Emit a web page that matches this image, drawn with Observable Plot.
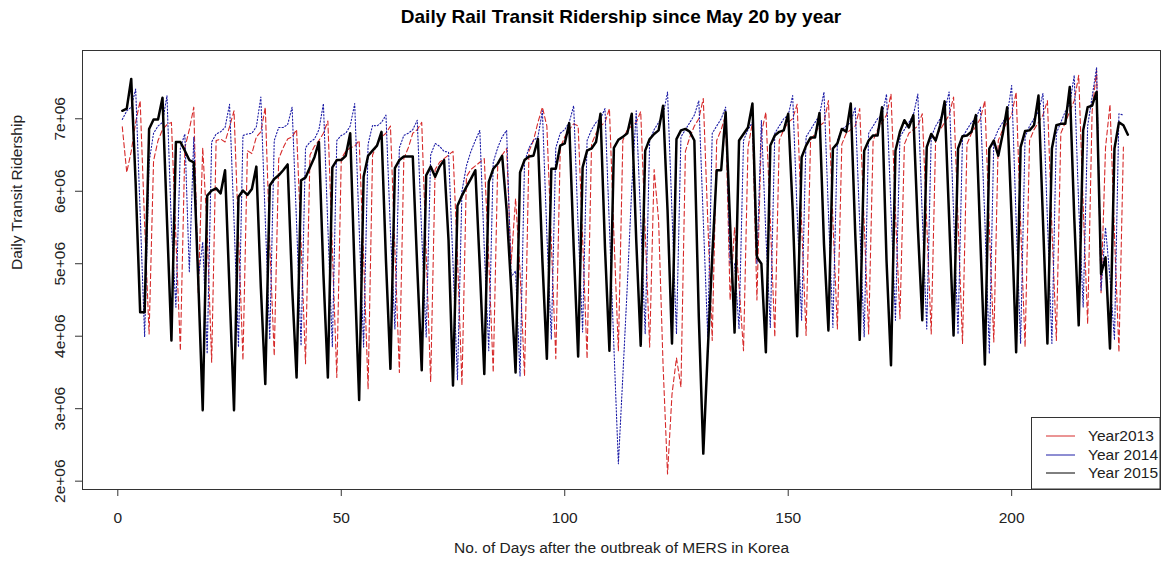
<!DOCTYPE html>
<html>
<head>
<meta charset="utf-8">
<script src="https://cdn.jsdelivr.net/npm/d3@7"></script>
<script src="https://cdn.jsdelivr.net/npm/@observablehq/plot@0.6"></script>
<style>
  html, body { margin: 0; padding: 0; background: #fff; }
  #wrap { position: relative; width: 1167px; height: 564px; font-family: "Liberation Sans", Arial, sans-serif; }
  #title { height: 36px; line-height: 34px; text-align: center; font-weight: bold; font-size: 19px; color: #000;
           padding-left: 75px; box-sizing: border-box; }
  #legend { position: absolute; left: 0; top: 0; pointer-events: none; }
</style>
</head>
<body>
<div id="wrap">
  <div id="title">Daily Rail Transit Ridership since May 20 by year</div>
  <div id="chart"></div>
</div>
<script>
// Daily rail transit ridership (millions of riders), day 1 = May 20 of each year
const riders2013 = [
  6.89, 6.26, 6.55, 6.95, 7.25, 5.55, 4.03,
  6.42, 6.70, 6.85, 6.92, 6.95, 5.35, 3.80,
  6.60, 6.85, 7.16, 4.60, 6.60, 5.45, 3.64,
  6.70, 6.72, 6.68, 6.89, 7.11, 5.41, 3.67,
  6.56, 6.52, 6.75, 6.82, 7.16, 5.28, 3.73,
  6.45, 6.60, 6.72, 6.75, 6.85, 5.30, 3.62,
  6.50, 6.62, 6.70, 6.80, 6.97, 5.20, 3.43,
  6.45, 6.55, 6.60, 6.62, 6.70, 5.10, 3.27,
  6.50, 6.65, 6.75, 6.80, 6.90, 5.20, 3.50,
  6.45, 6.60, 6.80, 6.85, 6.95, 5.15, 3.37,
  6.30, 6.40, 6.45, 6.50, 6.55, 5.10, 3.32,
  6.20, 6.30, 6.35, 6.40, 6.45, 5.05, 3.50,
  6.35, 6.50, 6.59, 5.00, 5.90, 4.90, 3.45,
  6.55, 6.70, 6.95, 7.16, 6.90, 5.30, 3.69,
  6.60, 6.75, 6.85, 6.93, 6.90, 5.35, 3.69,
  6.65, 6.80, 6.90, 6.95, 7.14, 5.40, 3.80,
  6.70, 6.85, 6.90, 6.95, 7.10, 5.45, 3.85,
  6.30, 5.60, 3.60, 2.10, 3.20, 3.70, 3.30,
  6.55, 6.75, 6.90, 7.00, 7.28, 5.60, 3.94,
  6.70, 6.85, 7.05, 4.50, 5.50, 4.70, 3.80,
  6.60, 6.95, 4.50, 6.80, 7.09, 5.60, 3.99,
  6.70, 6.85, 6.95, 7.00, 7.20, 5.55, 4.01,
  6.70, 6.80, 6.90, 6.95, 7.25, 5.60, 4.10,
  6.65, 6.80, 6.85, 6.90, 7.14, 5.55, 4.03,
  6.70, 6.85, 6.95, 7.05, 7.34, 5.70, 4.24,
  6.65, 6.80, 6.85, 6.90, 7.07, 5.55, 4.03,
  6.75, 6.85, 6.95, 7.05, 7.30, 5.60, 3.90,
  6.65, 6.80, 6.90, 7.00, 7.25, 5.50, 3.92,
  6.70, 6.85, 6.95, 7.05, 7.37, 5.55, 3.85,
  6.70, 6.85, 6.95, 7.05, 7.25, 5.50, 3.94,
  6.80, 6.95, 7.10, 7.25, 7.60, 5.80, 4.17,
  7.10, 7.67, 4.60, 6.60, 7.20, 5.40, 3.78,
  6.61
];

const riders2014 = [
  6.99, 7.11, 7.16, 7.41, 5.70, 3.99,
  6.40, 6.80, 6.90, 6.95, 7.32, 5.50, 4.40,
  6.60, 6.79, 4.88, 6.75, 4.80, 5.30, 3.76,
  6.68, 6.79, 6.82, 6.88, 7.20, 5.60, 3.85,
  6.77, 6.79, 6.80, 6.89, 7.30, 5.60, 3.96,
  6.70, 6.88, 6.88, 6.92, 7.16, 5.55, 3.87,
  6.60, 6.68, 6.72, 6.85, 7.21, 5.50, 3.85,
  6.70, 6.77, 6.80, 6.90, 7.21, 5.50, 3.85,
  6.65, 6.91, 6.90, 6.95, 7.05, 5.45, 4.10,
  6.60, 6.77, 6.80, 6.85, 6.98, 5.40, 3.99,
  6.50, 6.66, 6.62, 6.55, 6.54, 5.00, 3.40,
  6.00, 6.35, 6.55, 6.70, 6.84, 5.20, 3.80,
  6.40, 6.60, 6.75, 6.84, 4.82, 4.90, 3.45,
  6.40, 6.60, 6.70, 6.75, 7.11, 5.40, 3.96,
  6.60, 6.80, 6.85, 6.95, 7.18, 5.50, 4.06,
  6.70, 6.85, 6.95, 7.00, 7.14, 5.50, 3.85,
  2.24, 3.45, 4.70, 6.05, 7.11, 5.60, 4.03,
  6.70, 6.85, 6.95, 7.05, 7.37, 5.70, 4.03,
  6.75, 6.85, 6.95, 7.05, 7.25, 5.60, 3.99,
  6.80, 6.90, 7.00, 7.16, 5.00, 5.00, 4.10,
  6.70, 6.85, 6.95, 5.00, 6.98, 5.40, 4.12,
  6.80, 6.90, 7.00, 7.05, 7.32, 5.70, 4.22,
  6.75, 6.85, 6.95, 7.05, 7.37, 5.70, 4.12,
  6.70, 6.85, 6.90, 6.95, 7.16, 5.55, 3.99,
  6.80, 6.90, 7.00, 7.05, 7.34, 5.75, 4.22,
  6.75, 6.85, 6.95, 7.05, 7.34, 5.65, 4.10,
  6.75, 6.90, 7.00, 7.10, 7.37, 5.70, 4.03,
  6.75, 6.85, 6.95, 7.00, 7.16, 5.60, 3.76,
  6.70, 6.85, 6.95, 7.05, 7.46, 5.60, 3.90,
  6.75, 6.90, 7.00, 7.10, 7.35, 5.60, 3.90,
  6.80, 6.95, 7.10, 7.20, 7.60, 5.80, 4.40,
  6.90, 7.30, 7.71, 4.63, 5.50, 4.80, 3.95,
  7.07, 7.05
];

const riders2015 = [
  7.11, 7.14, 7.55, 6.10, 4.33, 4.33,
  6.86, 6.99, 6.99, 7.29, 5.60, 3.94,
  6.68, 6.68, 6.56, 6.43, 6.40, 4.77, 2.98,
  5.94, 6.01, 6.04, 5.97, 6.29, 4.63, 2.98,
  5.92, 6.01, 5.95, 6.03, 6.34, 4.68, 3.34,
  6.08, 6.17, 6.22, 6.29, 6.37, 4.68, 3.43,
  6.15, 6.19, 6.33, 6.47, 6.68, 4.86, 3.43,
  6.33, 6.43, 6.43, 6.49, 6.80, 4.86, 3.12,
  6.20, 6.49, 6.56, 6.63, 6.82, 5.04, 3.55,
  6.32, 6.43, 6.48, 6.48, 6.48, 4.95, 3.53,
  6.22, 6.34, 6.20, 6.34, 6.43, 5.32, 3.32,
  5.80, 5.94, 6.06, 6.17, 6.29, 4.95, 3.48,
  6.13, 6.31, 6.38, 6.49, 5.74, 4.68, 3.50,
  6.26, 6.43, 6.48, 6.49, 6.72, 5.04, 3.69,
  6.31, 6.31, 6.63, 6.66, 6.94, 5.23, 3.72,
  6.33, 6.56, 6.59, 6.68, 7.07, 5.23, 3.80,
  6.60, 6.71, 6.75, 6.80, 7.07, 5.32, 3.87,
  6.56, 6.72, 6.79, 6.84, 7.18, 5.74, 3.90,
  6.72, 6.84, 6.86, 6.82, 6.70, 4.26, 2.38,
  3.80, 5.09, 6.29, 6.29, 7.09, 5.55, 4.05,
  6.70, 6.79, 6.88, 7.21, 5.09, 5.00, 3.78,
  6.63, 6.77, 6.82, 6.84, 7.07, 5.74, 4.00,
  6.47, 6.63, 6.74, 6.74, 7.08, 5.28, 4.08,
  6.59, 6.66, 6.86, 6.82, 7.21, 5.41, 3.95,
  6.56, 6.70, 6.77, 6.77, 7.16, 5.04, 3.60,
  6.56, 6.82, 6.98, 6.88, 7.05, 5.51, 4.22,
  6.61, 6.79, 6.70, 6.91, 7.24, 5.64, 4.01,
  6.59, 6.76, 6.77, 6.82, 7.05, 5.32, 3.61,
  6.59, 6.70, 6.49, 6.79, 7.16, 5.60, 3.78,
  6.61, 6.83, 6.84, 6.91, 7.32, 5.60, 3.90,
  6.59, 6.91, 6.93, 6.93, 7.44, 5.64, 4.15,
  6.84, 7.16, 7.18, 7.37, 4.86, 5.09, 3.83,
  6.59, 6.95, 6.91, 6.78
];

const seriesNames = ["Year2013", "Year 2014", "Year 2015"];
const seriesColors = ["#d62a2a", "#1c1ca6", "#000000"];
const xTicks = [0, 50, 100, 150, 200];
const yTicks = [2e6, 3e6, 4e6, 5e6, 6e6, 7e6];
const yTickLabels = ["2e+06", "3e+06", "4e+06", "5e+06", "6e+06", "7e+06"];

const toRows = (values, name) => values.map((v, i) => ({day: i + 1, riders: v * 1e6, series: name}));
const rows2013 = toRows(riders2013, seriesNames[0]);
const rows2014 = toRows(riders2014, seriesNames[1]);
const rows2015 = toRows(riders2015, seriesNames[2]);

const font = "Liberation Sans, Arial, sans-serif";
const W = 1167, H = 528;
const mL = 82, mR = 7, mT = 14, mB = 75;

const chart = Plot.plot({
  width: W,
  height: H,
  marginLeft: mL,
  marginRight: mR,
  marginTop: mT,
  marginBottom: mB,
  style: {fontFamily: font, fontSize: "15.5px", color: "#222", background: "#fff"},
  x: {domain: [-7.9, 233.3]},
  y: {domain: [1.885e6, 7.942e6]},
  marks: [
    Plot.line(rows2013, {x: "day", y: "riders", stroke: seriesColors[0], strokeWidth: 1.1, strokeDasharray: "5 3"}),
    Plot.line(rows2014, {x: "day", y: "riders", stroke: seriesColors[1], strokeWidth: 1.1, strokeDasharray: "1.3 2"}),
    Plot.line(rows2015, {x: "day", y: "riders", stroke: seriesColors[2], strokeWidth: 2.5}),
    Plot.frame({stroke: "#333", strokeWidth: 1}),
    Plot.axisX({ticks: xTicks, tickSize: 7, tickPadding: 15, fontSize: 15.5, stroke: "#333", fill: "#222", label: null}),
    Plot.axisY({ticks: yTicks, tickSize: 7, tickPadding: 11, tickRotate: -90, fontSize: 15.5,
                tickFormat: d => yTickLabels[yTicks.indexOf(d)], stroke: "#333", fill: "#222", label: null}),
    Plot.text(["No. of Days after the outbreak of MERS in Korea"], {frameAnchor: "bottom", dy: 63, fontSize: 15.5, fill: "#222"}),
    Plot.text(["Daily Transit Ridership"], {frameAnchor: "left", dx: -65, rotate: -90, fontSize: 15.5, fill: "#222"})
  ]
});
document.getElementById("chart").appendChild(chart);

// Legend box in the lower-right corner of the plot panel
const lg = d3.select("#wrap").append("svg").attr("id", "legend")
  .attr("width", W).attr("height", 564);
lg.append("rect").attr("x", 1031.5).attr("y", 417.5).attr("width", 128.5).attr("height", 71.5)
  .attr("fill", "#fff").attr("stroke", "#333").attr("stroke-width", 1);
const rowsY = [436, 455, 473];
seriesNames.forEach((name, i) => {
  lg.append("line").attr("x1", 1046).attr("x2", 1075).attr("y1", rowsY[i]).attr("y2", rowsY[i])
    .attr("stroke", seriesColors[i]).attr("stroke-width", 1);
  lg.append("text").attr("x", 1088).attr("y", rowsY[i]).attr("dy", "0.35em")
    .attr("font-family", font).attr("font-size", 15.5).attr("fill", "#222").text(name);
});
</script>
</body>
</html>
